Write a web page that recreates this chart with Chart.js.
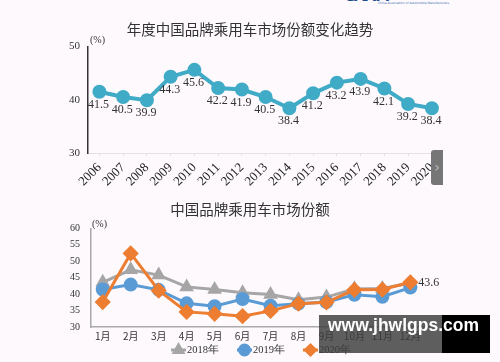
<!DOCTYPE html>
<html>
<head>
<meta charset="utf-8">
<script src="https://cdn.jsdelivr.net/npm/chart.js@4.4.1/dist/chart.umd.min.js"></script>
<style>
  html, body { margin: 0; padding: 0; }
  body { width: 500px; height: 362px; background: #fdf9fd; position: relative; overflow: hidden; }
  #top { position: absolute; left: 0; top: 0; }
  #bottom { position: absolute; left: 0; top: 195px; }
  .logo { position: absolute; left: 344px; top: -13px; font: bold 15px "DejaVu Sans", sans-serif; color: #1d4f8f; letter-spacing: -1px; }
  .logo small { font: 3px "DejaVu Sans", sans-serif; letter-spacing: 0; position: absolute; left: 34px; top: 14px; width: 80px; color: #3a6fb0; }
  .tab { position: absolute; left: 431px; top: 150px; width: 12px; height: 35px; background: #767676; border-radius: 3px 0 0 3px; color: #bbb; font: 14px "DejaVu Sans", sans-serif; line-height: 35px; text-align: center; }
  .wm { position: absolute; left: 319px; top: 315px; width: 171px; height: 38px; background: linear-gradient(to right, rgba(60,60,60,0.82) 0, rgba(60,60,60,0.82) 123px, #000 123px); }
  .wm span { position: absolute; left: 9px; top: 0; line-height: 38px; font: bold 17.5px "Liberation Sans", Arial, sans-serif; color: #fff; white-space: nowrap; }
</style>
</head>
<body>
<div class="logo">CAAM<small>China Association of Automobile Manufacturers</small></div>
<canvas id="top" width="500" height="195"></canvas>
<canvas id="bottom" width="500" height="167"></canvas>
<div class="tab">›</div>
<div class="wm"><span>www.jhwlgps.com</span></div>
<script>
// 年度数据
const years = [2006, 2007, 2008, 2009, 2010, 2011, 2012, 2013, 2014, 2015, 2016, 2017, 2018, 2019, 2020];
const yearShare = [41.5, 40.5, 39.9, 44.3, 45.6, 42.2, 41.9, 40.5, 38.4, 41.2, 43.2, 43.9, 42.1, 39.2, 38.4];
const yearTicks = [30, 40, 50];

// 月度数据
const months = ["1月", "2月", "3月", "4月", "5月", "6月", "7月", "8月", "9月", "10月", "11月", "12月"];
const share2018 = [43.6, 47.4, 45.8, 42.2, 41.4, 40.4, 39.9, 38.3, 39.1, 41.6, 41.7, 43.4];
const share2019 = [41.4, 42.9, 41.3, 37.2, 36.3, 38.5, 36.5, 37.1, 37.6, 39.8, 39.2, 42.0];
const share2020 = [37.6, 52.4, 41.1, 34.6, 34.0, 33.3, 34.9, 37.1, 37.5, 41.3, 41.4, 43.6];
const seriesNames = ["2018年", "2019年", "2020年"];

const serif = "'Liberation Serif', 'DejaVu Serif', serif";
const cjk = "'Noto Sans CJK SC', sans-serif";

// 年度折线图
const topLabels = {
    id: "topLabels",
    afterDatasetsDraw(chart) {
        const ctx = chart.ctx;
        ctx.save();
        ctx.fillStyle = "#333";
        ctx.font = "12px " + serif;
        ctx.textAlign = "center";
        ctx.textBaseline = "middle";
        chart.getDatasetMeta(0).data.forEach((p, i) => {
            ctx.fillText(yearShare[i].toFixed(1), p.x - 1, p.y + 13);
        });
        ctx.font = "10px " + serif;
        ctx.textAlign = "left";
        ctx.fillText("(%)", 90, 40);
        ctx.restore();
    },
};

new Chart(document.getElementById("top"), {
    type: "line",
    data: {
        datasets: [
            {
                data: years.map((y, i) => ({ x: y, y: yearShare[i] })),
                borderColor: "#40abc6",
                backgroundColor: "#40abc6",
                borderWidth: 4,
                pointRadius: 5,
                pointHoverRadius: 5,
                tension: 0,
            },
        ],
    },
    options: {
        responsive: false,
        animation: false,
        layout: { padding: { left: 61, right: 61, top: 0, bottom: 0 } },
        plugins: {
            legend: { display: false },
            tooltip: { enabled: false },
            title: {
                display: true,
                text: "年度中国品牌乘用车市场份额变化趋势",
                color: "#333",
                font: { family: cjk, size: 14.5, weight: "normal" },
                padding: { top: 21, bottom: 8 },
            },
        },
        scales: {
            x: {
                type: "linear",
                min: 2005.52,
                max: 2020.3,
                afterBuildTicks: (s) => { s.ticks = years.map((v) => ({ value: v })); },
                afterFit: (s) => { s.height = 42; },
                ticks: {
                    autoSkip: false,
                    minRotation: 45,
                    maxRotation: 45,
                    color: "#222",
                    font: { family: serif, size: 13 },
                    padding: 4,
                    callback: (v) => String(v),
                },
                grid: { drawOnChartArea: false, tickLength: 3, color: "#e6e0e6" },
                border: { color: "#e6e0e6", width: 1 },
            },
            y: {
                min: 30,
                max: 50,
                afterBuildTicks: (s) => { s.ticks = yearTicks.map((v) => ({ value: v })); },
                afterFit: (s) => { s.width = 27; },
                ticks: { color: "#333", font: { family: serif, size: 11 }, padding: 8 },
                grid: { display: false, drawTicks: false },
                border: { color: "#333", width: 1.5 },
            },
        },
    },
    plugins: [topLabels],
});

// 月度折线图
const bottomExtras = {
    id: "bottomExtras",
    afterDraw(chart) {
        const ctx = chart.ctx;
        ctx.save();
        ctx.fillStyle = "#333";
        ctx.font = "10px " + serif;
        ctx.textBaseline = "middle";
        ctx.fillText("(%)", 92, 29);

        // 最后一个点的数值
        const last = chart.getDatasetMeta(2).data[share2020.length - 1];
        ctx.font = "12px " + serif;
        ctx.fillText(share2020[share2020.length - 1].toFixed(1), last.x + 8, last.y + 1);

        // 图例
        let x = 171;
        const y = 155;
        ctx.font = "10.5px " + serif;
        chart.data.datasets.forEach((ds, i) => {
            ctx.strokeStyle = ds.borderColor;
            ctx.lineWidth = 3;
            ctx.beginPath();
            ctx.moveTo(x, y);
            ctx.lineTo(x + 15, y);
            ctx.stroke();
            Chart.helpers.drawPoint(ctx, {
                pointStyle: ds.pointStyle,
                radius: 5,
                rotation: 0,
                borderWidth: 1,
            }, x + 7.5, y);
            ctx.fillStyle = ds.borderColor;
            ctx.fill();
            ctx.fillStyle = "#333";
            ctx.fillText(seriesNames[i], x + 16, y);
            x += 16 + ctx.measureText(seriesNames[i]).width + 18;
        });
        ctx.restore();
    },
};

function series(values, color, style, order) {
    return {
        data: values.map((v, i) => ({ x: i + 1, y: v })),
        borderColor: color,
        backgroundColor: color,
        borderWidth: 3,
        pointStyle: style,
        pointRadius: style === "rectRot" ? 6 : 5.5,
        pointHoverRadius: 5.5,
        order: order,
        tension: 0,
    };
}

new Chart(document.getElementById("bottom"), {
    type: "line",
    data: {
        datasets: [
            series(share2018, "#a6a6a6", "triangle", 2),
            series(share2019, "#5b9bd5", "circle", 1),
            series(share2020, "#ed7d31", "rectRot", 0),
        ],
    },
    options: {
        responsive: false,
        animation: false,
        layout: { padding: { left: 67, right: 67, top: 0, bottom: 0 } },
        plugins: {
            legend: { display: false },
            tooltip: { enabled: false },
            title: {
                display: true,
                text: "中国品牌乘用车市场份额",
                color: "#333",
                font: { family: cjk, size: 14.5, weight: "normal" },
                padding: { top: 6, bottom: 10 },
            },
        },
        scales: {
            x: {
                type: "linear",
                min: 0.58,
                max: 12.81,
                afterBuildTicks: (s) => { s.ticks = months.map((m, i) => ({ value: i + 1 })); },
                afterFit: (s) => { s.height = 35; },
                ticks: {
                    autoSkip: false,
                    maxRotation: 0,
                    color: "#333",
                    font: { family: cjk, size: 10 },
                    padding: 3,
                    callback: (v) => months[v - 1],
                },
                grid: { display: false, drawTicks: false },
                border: { color: "#aaa", width: 1.5 },
            },
            y: {
                min: 30,
                max: 60,
                ticks: { stepSize: 5, color: "#333", font: { family: serif, size: 10 }, padding: 11 },
                afterFit: (s) => { s.width = 24; },
                grid: { display: false, drawTicks: false },
                border: { color: "#aaa", width: 1.5 },
            },
        },
    },
    plugins: [bottomExtras],
});
</script>
</body>
</html>
